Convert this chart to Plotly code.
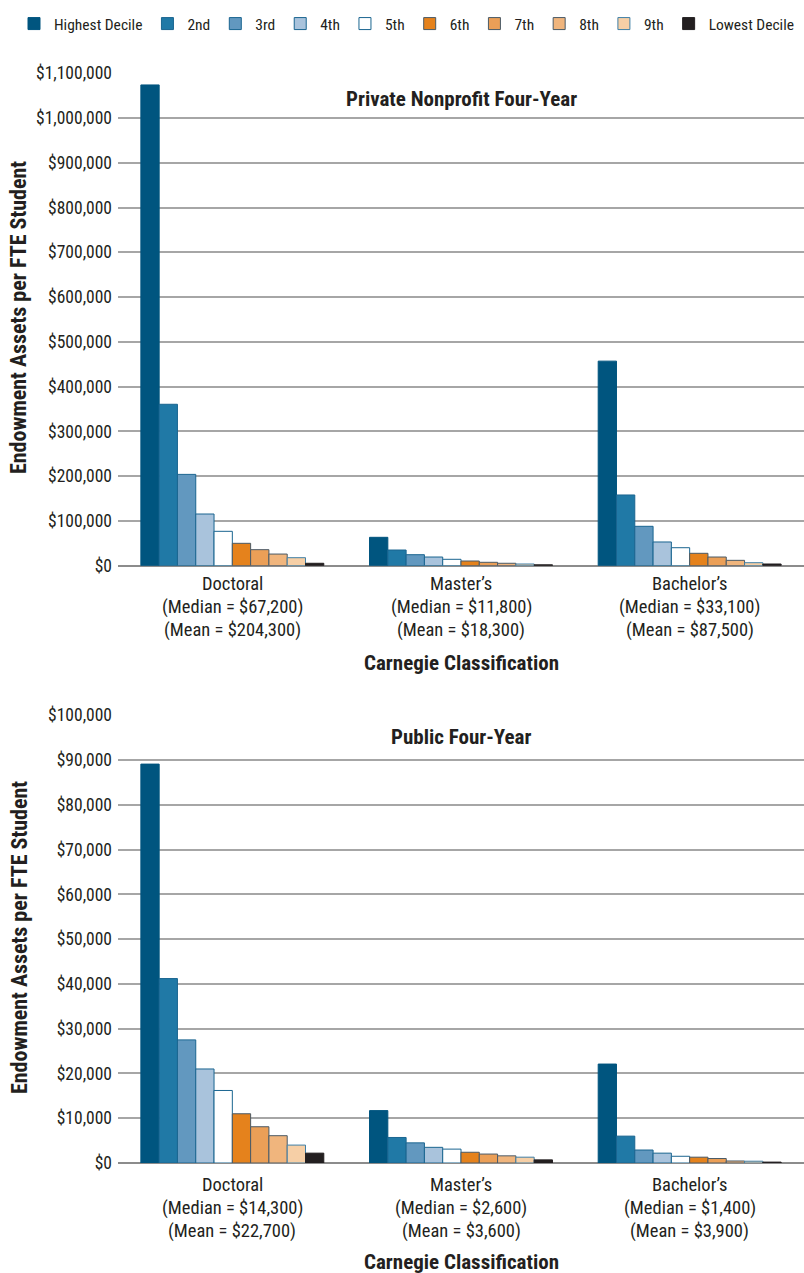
import plotly.graph_objects as go

categories = ["Doctoral", "Master's", "Bachelor's"]
cat_labels_private = [
    ["Doctoral", "(Median = $67,200)", "(Mean = $204,300)"],
    ["Master\u2019s", "(Median = $11,800)", "(Mean = $18,300)"],
    ["Bachelor\u2019s", "(Median = $33,100)", "(Mean = $87,500)"],
]
cat_labels_public = [
    ["Doctoral", "(Median = $14,300)", "(Mean = $22,700)"],
    ["Master\u2019s", "(Median = $2,600)", "(Mean = $3,600)"],
    ["Bachelor\u2019s", "(Median = $1,400)", "(Mean = $3,900)"],
]
deciles = ["Highest Decile", "2nd", "3rd", "4th", "5th", "6th", "7th", "8th", "9th", "Lowest Decile"]

# values per decile: [Doctoral, Master's, Bachelor's]
private_values = [
    [1074000, 63400, 457000],
    [360600, 35000, 158000],
    [204000, 24600, 88000],
    [115500, 19400, 53000],
    [76800, 14300, 40200],
    [50000, 10500, 27700],
    [35800, 7600, 19400],
    [26000, 5400, 12000],
    [17900, 3800, 6700],
    [5400, 2000, 3800],
]
public_values = [
    [89100, 11700, 22100],
    [41200, 5700, 6000],
    [27500, 4500, 2900],
    [21000, 3500, 2200],
    [16200, 3100, 1500],
    [11000, 2400, 1300],
    [8100, 2000, 1000],
    [6100, 1600, 450],
    [4000, 1300, 400],
    [2200, 700, 200],
]

fill_colors = ["#00557f", "#2079a6", "#6298bf", "#a9c3dc", "#ffffff",
               "#e5821c", "#eb9f57", "#f0b57d", "#f6cfa6", "#231f20"]
line_colors = ["#00557f", "#1a6590", "#1a6590", "#1a6590", "#1a6590",
               "#4a5a66", "#4a5a66", "#4a5a66", "#3f7fa6", "#231f20"]

FONT = "Liberation Sans Narrow, Roboto Condensed, DejaVu Sans Condensed, Arial Narrow, sans-serif"
TXT = "#231f20"
W, H = 804, 1273

fig = go.Figure()
for i, name in enumerate(deciles):
    fig.add_trace(go.Bar(
        x=categories, y=private_values[i], name=name, legendgroup=name,
        marker=dict(color=fill_colors[i], line=dict(color=line_colors[i], width=1)),
        xaxis="x", yaxis="y", showlegend=True))
for i, name in enumerate(deciles):
    fig.add_trace(go.Bar(
        x=categories, y=public_values[i], name=name, legendgroup=name,
        marker=dict(color=fill_colors[i], line=dict(color=line_colors[i], width=1)),
        xaxis="x2", yaxis="y2", showlegend=False))

def py(px):
    return 1 - px / H

x_dom = [118 / W, 1.0]
top_dom = [py(565.7), py(73.3)]
bot_dom = [py(1163), py(715.3)]

axis_common = dict(showline=False, ticks="", showgrid=False, showticklabels=False,
                   type="category", fixedrange=True, automargin=False)
yax_common = dict(showgrid=True, gridcolor="#a6a6a6", gridwidth=1.5, zeroline=True,
                  zerolinecolor="#8c8c8c", zerolinewidth=2, tickprefix="$", tickformat=",",
                  tickfont=dict(family=FONT, size=17.5, color=TXT), ticks="",
                  ticklabelstandoff=5, showline=False, automargin=False)

fig.update_layout(
    width=W, height=H, autosize=False,
    margin=dict(l=0, r=0, t=0, b=0, autoexpand=False),
    paper_bgcolor="white", plot_bgcolor="white",
    barmode="group", bargap=0.2, bargroupgap=0,
    font=dict(family=FONT, color=TXT),
    xaxis=dict(domain=x_dom, anchor="y", **axis_common),
    xaxis2=dict(domain=x_dom, anchor="y2", **axis_common),
    yaxis=dict(domain=top_dom, anchor="x", range=[0, 1100000], dtick=100000, **yax_common),
    yaxis2=dict(domain=bot_dom, anchor="x2", range=[0, 100000], dtick=10000, **yax_common),
    legend=dict(orientation="h", x=14 / W, y=py(24), yanchor="middle", xanchor="left",
                font=dict(family=FONT, size=15.5, color=TXT),
                itemwidth=30, tracegroupgap=0, traceorder="normal",
                bgcolor="rgba(0,0,0,0)"),
    showlegend=True,
)

ann = []
def add(text, x, y, size, xref="paper", angle=0):
    ann.append(dict(text=text, x=x, y=py(y), xref=xref, yref="paper", showarrow=False,
                    xanchor="center", yanchor="middle", textangle=angle,
                    font=dict(family=FONT, size=size, color=TXT)))

# chart titles
add("<b>Private Nonprofit Four-Year</b>", 461 / W, 99, 21)
add("<b>Public Four-Year</b>", 461 / W, 737, 21)
# axis titles
for yy in (663, 1262):
    add("<b>Carnegie Classification</b>", 461 / W, yy, 21)
for yy in (318, 938):
    add("<b>Endowment Assets per FTE Student</b>", 19 / W, yy, 22, angle=-90)
# category labels
line_y_top = [584, 607, 630]
line_y_bot = [1185, 1208, 1231]
for labels, xr, ys in ((cat_labels_private, "x", line_y_top), (cat_labels_public, "x2", line_y_bot)):
    for ci, cat in enumerate(categories):
        for li, txt in enumerate(labels[ci]):
            add(txt, cat, ys[li], 18.5, xref=xr)
fig.update_layout(annotations=ann)

fig.write_html("out.html", config={"displayModeBar": False},
               post_script="document.body.style.margin='0px';")
